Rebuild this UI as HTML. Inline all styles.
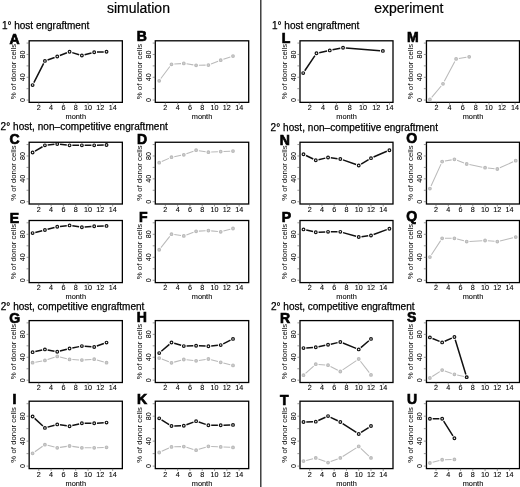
<!DOCTYPE html><html><head><meta charset="utf-8"><style>html,body{margin:0;padding:0;background:#fff;overflow:hidden}svg{display:block;will-change:transform}text{font-family:"Liberation Sans", sans-serif;fill:#000}.t{font-size:7.2px;stroke:#000;stroke-width:0.08px}.yl{font-size:7.4px;stroke:#000;stroke-width:0.08px}.yl2{font-size:7.8px}.lt{font-size:14px;font-weight:bold;stroke:#000;stroke-width:0.7px}.h{font-size:10px;stroke:#000;stroke-width:0.25px}.ti{font-size:14px;stroke:#000;stroke-width:0.2px}</style></head><body>
<svg width="520" height="487" viewBox="0 0 520 487">
<rect width="520" height="487" fill="#fff"/>
<rect x="260" y="0" width="1" height="487" fill="#444"/><rect x="261" y="0" width="1" height="487" fill="#9a9a9a"/>
<text x="106.9" y="13.2" class="ti">simulation</text>
<text x="374.2" y="13.2" class="ti">experiment</text>
<text x="1.9" y="28.8" class="h">1° host engraftment</text>
<text x="272" y="29.3" class="h">1° host engraftment</text>
<text x="0.6" y="129.5" class="h" textLength="167.2">2° host, non–competitive engraftment</text>
<text x="270.6" y="130.5" class="h" textLength="167.4">2° host, non–competitive engraftment</text>
<text x="0.8" y="309.7" class="h">2° host, competitive engraftment</text>
<text x="271" y="309.8" class="h">2° host, competitive engraftment</text>
<rect x="29.15" y="40.8" width="93.2" height="61.55" fill="none" stroke="#000" stroke-width="1.3"/>
<path d="M26.55 100.07H29.15M26.55 88.67H29.15M26.55 77.27H29.15M26.55 65.88H29.15M26.55 54.48H29.15M26.55 43.08H29.15M38.76 102.35V104.75M51.08 102.35V104.75M63.4 102.35V104.75M75.72 102.35V104.75M88.04 102.35V104.75M100.36 102.35V104.75M112.68 102.35V104.75" stroke="#555" stroke-width="0.6" fill="none"/>
<text transform="translate(24.85,100.07) rotate(-90)" text-anchor="middle" class="t">0</text>
<text transform="translate(24.85,77.27) rotate(-90)" text-anchor="middle" class="t">40</text>
<text transform="translate(24.85,54.48) rotate(-90)" text-anchor="middle" class="t">80</text>
<text transform="translate(15.95,71.57) rotate(-90)" text-anchor="middle" class="yl2">% of donor cells</text>
<text x="38.76" y="109.9" text-anchor="middle" class="t">2</text>
<text x="51.08" y="109.9" text-anchor="middle" class="t">4</text>
<text x="63.4" y="109.9" text-anchor="middle" class="t">6</text>
<text x="75.72" y="109.9" text-anchor="middle" class="t">8</text>
<text x="88.04" y="109.9" text-anchor="middle" class="t">10</text>
<text x="100.36" y="109.9" text-anchor="middle" class="t">12</text>
<text x="112.68" y="109.9" text-anchor="middle" class="t">14</text>
<text x="75.75" y="118.8" text-anchor="middle" class="yl">month</text>
<text x="9.5" y="43.7" class="lt">A</text>
<path d="M33.87 82.62L43.65 63.37M47.56 59.94L54.6 57.44M59.86 55.5L66.94 52.79M72.24 52.6L79.2 54.69M84.58 54.77L91.5 52.91M97 52.09L103.72 51.88" stroke="#111" stroke-width="1.5" fill="none"/>
<circle cx="32.6" cy="85.11" r="1.35" fill="none" stroke="#111" stroke-width="1.2"/>
<circle cx="44.92" cy="60.88" r="1.35" fill="none" stroke="#111" stroke-width="1.2"/>
<circle cx="57.24" cy="56.5" r="1.35" fill="none" stroke="#111" stroke-width="1.2"/>
<circle cx="69.56" cy="51.79" r="1.35" fill="none" stroke="#111" stroke-width="1.2"/>
<circle cx="81.88" cy="55.49" r="1.35" fill="none" stroke="#111" stroke-width="1.2"/>
<circle cx="94.2" cy="52.18" r="1.35" fill="none" stroke="#111" stroke-width="1.2"/>
<circle cx="106.52" cy="51.79" r="1.35" fill="none" stroke="#111" stroke-width="1.2"/>
<rect x="155.3" y="40.8" width="93.4" height="61.55" fill="none" stroke="#000" stroke-width="1.3"/>
<path d="M152.7 100.07H155.3M152.7 88.67H155.3M152.7 77.27H155.3M152.7 65.88H155.3M152.7 54.48H155.3M152.7 43.08H155.3M165.35 102.35V104.75M177.65 102.35V104.75M189.95 102.35V104.75M202.25 102.35V104.75M214.55 102.35V104.75M226.85 102.35V104.75M239.15 102.35V104.75" stroke="#555" stroke-width="0.6" fill="none"/>
<text transform="translate(151,100.07) rotate(-90)" text-anchor="middle" class="t">0</text>
<text transform="translate(151,77.27) rotate(-90)" text-anchor="middle" class="t">40</text>
<text transform="translate(151,54.48) rotate(-90)" text-anchor="middle" class="t">80</text>
<text transform="translate(142.1,71.57) rotate(-90)" text-anchor="middle" class="yl2">% of donor cells</text>
<text x="165.35" y="109.9" text-anchor="middle" class="t">2</text>
<text x="177.65" y="109.9" text-anchor="middle" class="t">4</text>
<text x="189.95" y="109.9" text-anchor="middle" class="t">6</text>
<text x="202.25" y="109.9" text-anchor="middle" class="t">8</text>
<text x="214.55" y="109.9" text-anchor="middle" class="t">10</text>
<text x="226.85" y="109.9" text-anchor="middle" class="t">12</text>
<text x="239.15" y="109.9" text-anchor="middle" class="t">14</text>
<text x="202" y="118.8" text-anchor="middle" class="yl">month</text>
<text x="136.7" y="40.7" class="lt">B</text>
<path d="M160.87 78.55L169.83 66.55M174.29 64.1L181.01 63.61M186.57 63.83L193.33 64.88M198.9 65.26L205.6 65.14M211 64.05L218.1 61.24M223.36 59.32L230.34 56.99" stroke="#bababa" stroke-width="1.05" fill="none"/>
<circle cx="159.2" cy="80.79" r="1.35" fill="#cfcfcf" stroke="#bababa" stroke-width="1.1"/>
<circle cx="171.5" cy="64.3" r="1.35" fill="#cfcfcf" stroke="#bababa" stroke-width="1.1"/>
<circle cx="183.8" cy="63.4" r="1.35" fill="#cfcfcf" stroke="#bababa" stroke-width="1.1"/>
<circle cx="196.1" cy="65.31" r="1.35" fill="#cfcfcf" stroke="#bababa" stroke-width="1.1"/>
<circle cx="208.4" cy="65.09" r="1.35" fill="#cfcfcf" stroke="#bababa" stroke-width="1.1"/>
<circle cx="220.7" cy="60.21" r="1.35" fill="#cfcfcf" stroke="#bababa" stroke-width="1.1"/>
<circle cx="233" cy="56.11" r="1.35" fill="#cfcfcf" stroke="#bababa" stroke-width="1.1"/>
<rect x="300" y="40.8" width="93" height="61.55" fill="none" stroke="#000" stroke-width="1.3"/>
<path d="M297.4 100.07H300M297.4 88.67H300M297.4 77.27H300M297.4 65.88H300M297.4 54.48H300M297.4 43.08H300M309.84 102.35V104.75M323.12 102.35V104.75M336.4 102.35V104.75M349.68 102.35V104.75M362.96 102.35V104.75M376.24 102.35V104.75M389.52 102.35V104.75" stroke="#555" stroke-width="0.6" fill="none"/>
<text transform="translate(295.7,100.07) rotate(-90)" text-anchor="middle" class="t">0</text>
<text transform="translate(295.7,77.27) rotate(-90)" text-anchor="middle" class="t">40</text>
<text transform="translate(295.7,54.48) rotate(-90)" text-anchor="middle" class="t">80</text>
<text transform="translate(286.8,71.57) rotate(-90)" text-anchor="middle" class="yl2">% of donor cells</text>
<text x="309.84" y="109.9" text-anchor="middle" class="t">2</text>
<text x="323.12" y="109.9" text-anchor="middle" class="t">4</text>
<text x="336.4" y="109.9" text-anchor="middle" class="t">6</text>
<text x="349.68" y="109.9" text-anchor="middle" class="t">8</text>
<text x="362.96" y="109.9" text-anchor="middle" class="t">10</text>
<text x="376.24" y="109.9" text-anchor="middle" class="t">12</text>
<text x="389.52" y="109.9" text-anchor="middle" class="t">14</text>
<text x="346.5" y="118.8" text-anchor="middle" class="yl">month</text>
<text x="281.7" y="42.6" class="lt">L</text>
<path d="M304.76 70.78L314.92 55.63M319.21 52.7L327.03 50.99M332.51 49.85L340.29 48.34M345.83 48.02L380.09 50.68" stroke="#111" stroke-width="1.5" fill="none"/>
<circle cx="303.2" cy="73.11" r="1.35" fill="none" stroke="#111" stroke-width="1.2"/>
<circle cx="316.48" cy="53.31" r="1.35" fill="none" stroke="#111" stroke-width="1.2"/>
<circle cx="329.76" cy="50.39" r="1.35" fill="none" stroke="#111" stroke-width="1.2"/>
<circle cx="343.04" cy="47.81" r="1.35" fill="none" stroke="#111" stroke-width="1.2"/>
<circle cx="382.88" cy="50.89" r="1.35" fill="none" stroke="#111" stroke-width="1.2"/>
<rect x="426.45" y="40.8" width="93.05" height="61.55" fill="none" stroke="#000" stroke-width="1.3"/>
<path d="M423.85 100.07H426.45M423.85 88.67H426.45M423.85 77.27H426.45M423.85 65.88H426.45M423.85 54.48H426.45M423.85 43.08H426.45M436.45 102.35V104.75M449.55 102.35V104.75M462.65 102.35V104.75M475.75 102.35V104.75M488.85 102.35V104.75M501.95 102.35V104.75M515.05 102.35V104.75" stroke="#555" stroke-width="0.6" fill="none"/>
<text transform="translate(422.15,100.07) rotate(-90)" text-anchor="middle" class="t">0</text>
<text transform="translate(422.15,77.27) rotate(-90)" text-anchor="middle" class="t">40</text>
<text transform="translate(422.15,54.48) rotate(-90)" text-anchor="middle" class="t">80</text>
<text transform="translate(413.25,71.57) rotate(-90)" text-anchor="middle" class="yl2">% of donor cells</text>
<text x="436.45" y="109.9" text-anchor="middle" class="t">2</text>
<text x="449.55" y="109.9" text-anchor="middle" class="t">4</text>
<text x="462.65" y="109.9" text-anchor="middle" class="t">6</text>
<text x="475.75" y="109.9" text-anchor="middle" class="t">8</text>
<text x="488.85" y="109.9" text-anchor="middle" class="t">10</text>
<text x="501.95" y="109.9" text-anchor="middle" class="t">12</text>
<text x="515.05" y="109.9" text-anchor="middle" class="t">14</text>
<text x="472.98" y="118.8" text-anchor="middle" class="yl">month</text>
<text x="407" y="41.8" class="lt">M</text>
<path d="M431.7 97.33L441.2 85.97M444.3 81.35L454.8 61.39M458.86 58.47L466.44 57.23" stroke="#bababa" stroke-width="1.05" fill="none"/>
<circle cx="429.9" cy="99.48" r="1.35" fill="#cfcfcf" stroke="#bababa" stroke-width="1.1"/>
<circle cx="443" cy="83.82" r="1.35" fill="#cfcfcf" stroke="#bababa" stroke-width="1.1"/>
<circle cx="456.1" cy="58.92" r="1.35" fill="#cfcfcf" stroke="#bababa" stroke-width="1.1"/>
<circle cx="469.2" cy="56.78" r="1.35" fill="#cfcfcf" stroke="#bababa" stroke-width="1.1"/>
<rect x="29.15" y="142.25" width="93.2" height="61.75" fill="none" stroke="#000" stroke-width="1.3"/>
<path d="M26.55 201.71H29.15M26.55 190.28H29.15M26.55 178.84H29.15M26.55 167.41H29.15M26.55 155.97H29.15M26.55 144.54H29.15M38.76 204V206.4M51.08 204V206.4M63.4 204V206.4M75.72 204V206.4M88.04 204V206.4M100.36 204V206.4M112.68 204V206.4" stroke="#555" stroke-width="0.6" fill="none"/>
<text transform="translate(24.85,201.71) rotate(-90)" text-anchor="middle" class="t">0</text>
<text transform="translate(24.85,178.84) rotate(-90)" text-anchor="middle" class="t">40</text>
<text transform="translate(24.85,155.97) rotate(-90)" text-anchor="middle" class="t">80</text>
<text transform="translate(15.95,173.12) rotate(-90)" text-anchor="middle" class="yl2">% of donor cells</text>
<text x="38.76" y="212.1" text-anchor="middle" class="t">2</text>
<text x="51.08" y="212.1" text-anchor="middle" class="t">4</text>
<text x="63.4" y="212.1" text-anchor="middle" class="t">6</text>
<text x="75.72" y="212.1" text-anchor="middle" class="t">8</text>
<text x="88.04" y="212.1" text-anchor="middle" class="t">10</text>
<text x="100.36" y="212.1" text-anchor="middle" class="t">12</text>
<text x="112.68" y="212.1" text-anchor="middle" class="t">14</text>
<text x="9.5" y="144.1" class="lt">C</text>
<path d="M35.02 151.11L42.5 146.75M47.7 145.04L54.46 144.33M60.02 144.33L66.78 145.04M72.36 145.34L79.08 145.34M84.68 145.34L91.4 145.34M97 145.27L103.72 145.12" stroke="#111" stroke-width="1.5" fill="none"/>
<circle cx="32.6" cy="152.52" r="1.35" fill="none" stroke="#111" stroke-width="1.2"/>
<circle cx="44.92" cy="145.34" r="1.35" fill="none" stroke="#111" stroke-width="1.2"/>
<circle cx="57.24" cy="144.03" r="1.35" fill="none" stroke="#111" stroke-width="1.2"/>
<circle cx="69.56" cy="145.34" r="1.35" fill="none" stroke="#111" stroke-width="1.2"/>
<circle cx="81.88" cy="145.34" r="1.35" fill="none" stroke="#111" stroke-width="1.2"/>
<circle cx="94.2" cy="145.34" r="1.35" fill="none" stroke="#111" stroke-width="1.2"/>
<circle cx="106.52" cy="145.05" r="1.35" fill="none" stroke="#111" stroke-width="1.2"/>
<rect x="155.3" y="142.25" width="93.4" height="61.75" fill="none" stroke="#000" stroke-width="1.3"/>
<path d="M152.7 201.71H155.3M152.7 190.28H155.3M152.7 178.84H155.3M152.7 167.41H155.3M152.7 155.97H155.3M152.7 144.54H155.3M165.35 204V206.4M177.65 204V206.4M189.95 204V206.4M202.25 204V206.4M214.55 204V206.4M226.85 204V206.4M239.15 204V206.4" stroke="#555" stroke-width="0.6" fill="none"/>
<text transform="translate(151,201.71) rotate(-90)" text-anchor="middle" class="t">0</text>
<text transform="translate(151,178.84) rotate(-90)" text-anchor="middle" class="t">40</text>
<text transform="translate(151,155.97) rotate(-90)" text-anchor="middle" class="t">80</text>
<text transform="translate(142.1,173.12) rotate(-90)" text-anchor="middle" class="yl2">% of donor cells</text>
<text x="165.35" y="212.1" text-anchor="middle" class="t">2</text>
<text x="177.65" y="212.1" text-anchor="middle" class="t">4</text>
<text x="189.95" y="212.1" text-anchor="middle" class="t">6</text>
<text x="202.25" y="212.1" text-anchor="middle" class="t">8</text>
<text x="214.55" y="212.1" text-anchor="middle" class="t">10</text>
<text x="226.85" y="212.1" text-anchor="middle" class="t">12</text>
<text x="239.15" y="212.1" text-anchor="middle" class="t">14</text>
<text x="137" y="143.9" class="lt">D</text>
<path d="M161.76 161.57L168.94 158.36M174.25 156.68L181.05 155.33M186.42 153.81L193.48 151.18M198.86 150.65L205.64 151.74M211.2 152.06L217.9 151.75M223.5 151.5L230.2 151.22" stroke="#bababa" stroke-width="1.05" fill="none"/>
<circle cx="159.2" cy="162.71" r="1.35" fill="#cfcfcf" stroke="#bababa" stroke-width="1.1"/>
<circle cx="171.5" cy="157.22" r="1.35" fill="#cfcfcf" stroke="#bababa" stroke-width="1.1"/>
<circle cx="183.8" cy="154.79" r="1.35" fill="#cfcfcf" stroke="#bababa" stroke-width="1.1"/>
<circle cx="196.1" cy="150.2" r="1.35" fill="#cfcfcf" stroke="#bababa" stroke-width="1.1"/>
<circle cx="208.4" cy="152.18" r="1.35" fill="#cfcfcf" stroke="#bababa" stroke-width="1.1"/>
<circle cx="220.7" cy="151.62" r="1.35" fill="#cfcfcf" stroke="#bababa" stroke-width="1.1"/>
<circle cx="233" cy="151.11" r="1.35" fill="#cfcfcf" stroke="#bababa" stroke-width="1.1"/>
<rect x="300" y="142.25" width="93" height="61.75" fill="none" stroke="#000" stroke-width="1.3"/>
<path d="M297.4 201.71H300M297.4 190.28H300M297.4 178.84H300M297.4 167.41H300M297.4 155.97H300M297.4 144.54H300M309.63 204V206.4M321.9 204V206.4M334.18 204V206.4M346.45 204V206.4M358.72 204V206.4M370.99 204V206.4M383.26 204V206.4" stroke="#555" stroke-width="0.6" fill="none"/>
<text transform="translate(295.7,201.71) rotate(-90)" text-anchor="middle" class="t">0</text>
<text transform="translate(295.7,178.84) rotate(-90)" text-anchor="middle" class="t">40</text>
<text transform="translate(295.7,155.97) rotate(-90)" text-anchor="middle" class="t">80</text>
<text transform="translate(286.8,173.12) rotate(-90)" text-anchor="middle" class="yl2">% of donor cells</text>
<text x="309.63" y="212.1" text-anchor="middle" class="t">2</text>
<text x="321.9" y="212.1" text-anchor="middle" class="t">4</text>
<text x="334.18" y="212.1" text-anchor="middle" class="t">6</text>
<text x="346.45" y="212.1" text-anchor="middle" class="t">8</text>
<text x="358.72" y="212.1" text-anchor="middle" class="t">10</text>
<text x="370.99" y="212.1" text-anchor="middle" class="t">12</text>
<text x="383.26" y="212.1" text-anchor="middle" class="t">14</text>
<text x="279.8" y="145.3" class="lt">N</text>
<path d="M306.01 155.46L313.26 159.04M318.5 159.66L325.31 158.12M330.82 157.84L337.53 158.64M342.95 159.91L356.08 164.55M361.12 164.05L368.59 159.57M373.56 157.02L386.83 151.31" stroke="#111" stroke-width="1.5" fill="none"/>
<circle cx="303.5" cy="154.22" r="1.35" fill="none" stroke="#111" stroke-width="1.2"/>
<circle cx="315.77" cy="160.28" r="1.35" fill="none" stroke="#111" stroke-width="1.2"/>
<circle cx="328.04" cy="157.5" r="1.35" fill="none" stroke="#111" stroke-width="1.2"/>
<circle cx="340.31" cy="158.98" r="1.35" fill="none" stroke="#111" stroke-width="1.2"/>
<circle cx="358.72" cy="165.49" r="1.35" fill="none" stroke="#111" stroke-width="1.2"/>
<circle cx="370.99" cy="158.13" r="1.35" fill="none" stroke="#111" stroke-width="1.2"/>
<circle cx="389.4" cy="150.2" r="1.35" fill="none" stroke="#111" stroke-width="1.2"/>
<rect x="426.45" y="142.25" width="93.05" height="61.75" fill="none" stroke="#000" stroke-width="1.3"/>
<path d="M423.85 201.71H426.45M423.85 190.28H426.45M423.85 178.84H426.45M423.85 167.41H426.45M423.85 155.97H426.45M423.85 144.54H426.45M436.03 204V206.4M448.29 204V206.4M460.55 204V206.4M472.81 204V206.4M485.07 204V206.4M497.33 204V206.4M509.59 204V206.4" stroke="#555" stroke-width="0.6" fill="none"/>
<text transform="translate(422.15,201.71) rotate(-90)" text-anchor="middle" class="t">0</text>
<text transform="translate(422.15,178.84) rotate(-90)" text-anchor="middle" class="t">40</text>
<text transform="translate(422.15,155.97) rotate(-90)" text-anchor="middle" class="t">80</text>
<text transform="translate(413.25,173.12) rotate(-90)" text-anchor="middle" class="yl2">% of donor cells</text>
<text x="436.03" y="212.1" text-anchor="middle" class="t">2</text>
<text x="448.29" y="212.1" text-anchor="middle" class="t">4</text>
<text x="460.55" y="212.1" text-anchor="middle" class="t">6</text>
<text x="472.81" y="212.1" text-anchor="middle" class="t">8</text>
<text x="485.07" y="212.1" text-anchor="middle" class="t">10</text>
<text x="497.33" y="212.1" text-anchor="middle" class="t">12</text>
<text x="509.59" y="212.1" text-anchor="middle" class="t">14</text>
<text x="406.2" y="142.9" class="lt">O</text>
<path d="M431.06 186.03L441 164.13M444.92 161.08L451.66 159.87M457.04 160.36L464.06 163.02M469.43 164.56L482.32 167.14M487.85 167.99L494.55 168.7M499.88 167.84L513.17 161.83" stroke="#bababa" stroke-width="1.05" fill="none"/>
<circle cx="429.9" cy="188.58" r="1.35" fill="#cfcfcf" stroke="#bababa" stroke-width="1.1"/>
<circle cx="442.16" cy="161.58" r="1.35" fill="#cfcfcf" stroke="#bababa" stroke-width="1.1"/>
<circle cx="454.42" cy="159.37" r="1.35" fill="#cfcfcf" stroke="#bababa" stroke-width="1.1"/>
<circle cx="466.68" cy="164.01" r="1.35" fill="#cfcfcf" stroke="#bababa" stroke-width="1.1"/>
<circle cx="485.07" cy="167.69" r="1.35" fill="#cfcfcf" stroke="#bababa" stroke-width="1.1"/>
<circle cx="497.33" cy="168.99" r="1.35" fill="#cfcfcf" stroke="#bababa" stroke-width="1.1"/>
<circle cx="515.72" cy="160.67" r="1.35" fill="#cfcfcf" stroke="#bababa" stroke-width="1.1"/>
<rect x="29.15" y="220.5" width="93.2" height="62.1" fill="none" stroke="#000" stroke-width="1.3"/>
<path d="M26.55 280.3H29.15M26.55 268.8H29.15M26.55 257.3H29.15M26.55 245.8H29.15M26.55 234.3H29.15M26.55 222.8H29.15M38.76 282.6V285M51.08 282.6V285M63.4 282.6V285M75.72 282.6V285M88.04 282.6V285M100.36 282.6V285M112.68 282.6V285" stroke="#555" stroke-width="0.6" fill="none"/>
<text transform="translate(24.85,280.3) rotate(-90)" text-anchor="middle" class="t">0</text>
<text transform="translate(24.85,257.3) rotate(-90)" text-anchor="middle" class="t">40</text>
<text transform="translate(24.85,234.3) rotate(-90)" text-anchor="middle" class="t">80</text>
<text transform="translate(15.95,251.55) rotate(-90)" text-anchor="middle" class="yl2">% of donor cells</text>
<text x="38.76" y="290.4" text-anchor="middle" class="t">2</text>
<text x="51.08" y="290.4" text-anchor="middle" class="t">4</text>
<text x="63.4" y="290.4" text-anchor="middle" class="t">6</text>
<text x="75.72" y="290.4" text-anchor="middle" class="t">8</text>
<text x="88.04" y="290.4" text-anchor="middle" class="t">10</text>
<text x="100.36" y="290.4" text-anchor="middle" class="t">12</text>
<text x="112.68" y="290.4" text-anchor="middle" class="t">14</text>
<text x="75.75" y="299.3" text-anchor="middle" class="yl">month</text>
<text x="9.7" y="222.5" class="lt">E</text>
<path d="M35.32 232.44L42.2 230.72M47.62 229.31L54.54 227.43M60.02 226.4L66.78 225.69M72.33 225.8L79.11 226.8M84.67 227L91.41 226.51M97 226.21L103.72 226" stroke="#111" stroke-width="1.5" fill="none"/>
<circle cx="32.6" cy="233.11" r="1.35" fill="none" stroke="#111" stroke-width="1.2"/>
<circle cx="44.92" cy="230.05" r="1.35" fill="none" stroke="#111" stroke-width="1.2"/>
<circle cx="57.24" cy="226.7" r="1.35" fill="none" stroke="#111" stroke-width="1.2"/>
<circle cx="69.56" cy="225.39" r="1.35" fill="none" stroke="#111" stroke-width="1.2"/>
<circle cx="81.88" cy="227.21" r="1.35" fill="none" stroke="#111" stroke-width="1.2"/>
<circle cx="94.2" cy="226.3" r="1.35" fill="none" stroke="#111" stroke-width="1.2"/>
<circle cx="106.52" cy="225.91" r="1.35" fill="none" stroke="#111" stroke-width="1.2"/>
<rect x="155.3" y="220.5" width="93.4" height="62.1" fill="none" stroke="#000" stroke-width="1.3"/>
<path d="M152.7 280.3H155.3M152.7 268.8H155.3M152.7 257.3H155.3M152.7 245.8H155.3M152.7 234.3H155.3M152.7 222.8H155.3M165.35 282.6V285M177.65 282.6V285M189.95 282.6V285M202.25 282.6V285M214.55 282.6V285M226.85 282.6V285M239.15 282.6V285" stroke="#555" stroke-width="0.6" fill="none"/>
<text transform="translate(151,280.3) rotate(-90)" text-anchor="middle" class="t">0</text>
<text transform="translate(151,257.3) rotate(-90)" text-anchor="middle" class="t">40</text>
<text transform="translate(151,234.3) rotate(-90)" text-anchor="middle" class="t">80</text>
<text transform="translate(142.1,251.55) rotate(-90)" text-anchor="middle" class="yl2">% of donor cells</text>
<text x="165.35" y="290.4" text-anchor="middle" class="t">2</text>
<text x="177.65" y="290.4" text-anchor="middle" class="t">4</text>
<text x="189.95" y="290.4" text-anchor="middle" class="t">6</text>
<text x="202.25" y="290.4" text-anchor="middle" class="t">8</text>
<text x="214.55" y="290.4" text-anchor="middle" class="t">10</text>
<text x="226.85" y="290.4" text-anchor="middle" class="t">12</text>
<text x="239.15" y="290.4" text-anchor="middle" class="t">14</text>
<text x="202" y="299.3" text-anchor="middle" class="yl">month</text>
<text x="138.9" y="222.2" class="lt">F</text>
<path d="M160.94 247.55L169.76 236.39M174.27 234.58L181.03 235.51M186.42 234.91L193.48 232.28M198.9 231.14L205.6 230.77M211.19 230.89L217.91 231.54M223.4 231.08L230.3 229.24" stroke="#bababa" stroke-width="1.05" fill="none"/>
<circle cx="159.2" cy="249.74" r="1.35" fill="#cfcfcf" stroke="#bababa" stroke-width="1.1"/>
<circle cx="171.5" cy="234.19" r="1.35" fill="#cfcfcf" stroke="#bababa" stroke-width="1.1"/>
<circle cx="183.8" cy="235.89" r="1.35" fill="#cfcfcf" stroke="#bababa" stroke-width="1.1"/>
<circle cx="196.1" cy="231.3" r="1.35" fill="#cfcfcf" stroke="#bababa" stroke-width="1.1"/>
<circle cx="208.4" cy="230.62" r="1.35" fill="#cfcfcf" stroke="#bababa" stroke-width="1.1"/>
<circle cx="220.7" cy="231.81" r="1.35" fill="#cfcfcf" stroke="#bababa" stroke-width="1.1"/>
<circle cx="233" cy="228.52" r="1.35" fill="#cfcfcf" stroke="#bababa" stroke-width="1.1"/>
<rect x="300" y="220.5" width="93" height="62.1" fill="none" stroke="#000" stroke-width="1.3"/>
<path d="M297.4 280.3H300M297.4 268.8H300M297.4 257.3H300M297.4 245.8H300M297.4 234.3H300M297.4 222.8H300M309.63 282.6V285M321.9 282.6V285M334.18 282.6V285M346.45 282.6V285M358.72 282.6V285M370.99 282.6V285M383.26 282.6V285" stroke="#555" stroke-width="0.6" fill="none"/>
<text transform="translate(295.7,280.3) rotate(-90)" text-anchor="middle" class="t">0</text>
<text transform="translate(295.7,257.3) rotate(-90)" text-anchor="middle" class="t">40</text>
<text transform="translate(295.7,234.3) rotate(-90)" text-anchor="middle" class="t">80</text>
<text transform="translate(286.8,251.55) rotate(-90)" text-anchor="middle" class="yl2">% of donor cells</text>
<text x="309.63" y="290.4" text-anchor="middle" class="t">2</text>
<text x="321.9" y="290.4" text-anchor="middle" class="t">4</text>
<text x="334.18" y="290.4" text-anchor="middle" class="t">6</text>
<text x="346.45" y="290.4" text-anchor="middle" class="t">8</text>
<text x="358.72" y="290.4" text-anchor="middle" class="t">10</text>
<text x="370.99" y="290.4" text-anchor="middle" class="t">12</text>
<text x="383.26" y="290.4" text-anchor="middle" class="t">14</text>
<text x="346.5" y="299.3" text-anchor="middle" class="yl">month</text>
<text x="281.8" y="222" class="lt">P</text>
<path d="M306.23 230.04L313.04 231.59M318.57 232.13L325.24 231.94M330.84 231.86L337.51 231.86M343.01 232.62L356.02 236.27M361.5 236.68L368.21 235.84M373.62 234.53L386.77 229.66" stroke="#111" stroke-width="1.5" fill="none"/>
<circle cx="303.5" cy="229.42" r="1.35" fill="none" stroke="#111" stroke-width="1.2"/>
<circle cx="315.77" cy="232.21" r="1.35" fill="none" stroke="#111" stroke-width="1.2"/>
<circle cx="328.04" cy="231.86" r="1.35" fill="none" stroke="#111" stroke-width="1.2"/>
<circle cx="340.31" cy="231.86" r="1.35" fill="none" stroke="#111" stroke-width="1.2"/>
<circle cx="358.72" cy="237.03" r="1.35" fill="none" stroke="#111" stroke-width="1.2"/>
<circle cx="370.99" cy="235.5" r="1.35" fill="none" stroke="#111" stroke-width="1.2"/>
<circle cx="389.4" cy="228.69" r="1.35" fill="none" stroke="#111" stroke-width="1.2"/>
<rect x="426.45" y="220.5" width="93.05" height="62.1" fill="none" stroke="#000" stroke-width="1.3"/>
<path d="M423.85 280.3H426.45M423.85 268.8H426.45M423.85 257.3H426.45M423.85 245.8H426.45M423.85 234.3H426.45M423.85 222.8H426.45M436.03 282.6V285M448.29 282.6V285M460.55 282.6V285M472.81 282.6V285M485.07 282.6V285M497.33 282.6V285M509.59 282.6V285" stroke="#555" stroke-width="0.6" fill="none"/>
<text transform="translate(422.15,280.3) rotate(-90)" text-anchor="middle" class="t">0</text>
<text transform="translate(422.15,257.3) rotate(-90)" text-anchor="middle" class="t">40</text>
<text transform="translate(422.15,234.3) rotate(-90)" text-anchor="middle" class="t">80</text>
<text transform="translate(413.25,251.55) rotate(-90)" text-anchor="middle" class="yl2">% of donor cells</text>
<text x="436.03" y="290.4" text-anchor="middle" class="t">2</text>
<text x="448.29" y="290.4" text-anchor="middle" class="t">4</text>
<text x="460.55" y="290.4" text-anchor="middle" class="t">6</text>
<text x="472.81" y="290.4" text-anchor="middle" class="t">8</text>
<text x="485.07" y="290.4" text-anchor="middle" class="t">10</text>
<text x="497.33" y="290.4" text-anchor="middle" class="t">12</text>
<text x="509.59" y="290.4" text-anchor="middle" class="t">14</text>
<text x="472.98" y="299.3" text-anchor="middle" class="yl">month</text>
<text x="406.3" y="221.3" class="lt">Q</text>
<path d="M431.43 254.78L440.63 240.63M444.96 238.28L451.62 238.28M457.12 239L463.98 240.84M469.48 241.41L482.27 240.66M487.86 240.74L494.54 241.33M500.05 240.9L513 237.7" stroke="#bababa" stroke-width="1.05" fill="none"/>
<circle cx="429.9" cy="257.12" r="1.35" fill="#cfcfcf" stroke="#bababa" stroke-width="1.1"/>
<circle cx="442.16" cy="238.28" r="1.35" fill="#cfcfcf" stroke="#bababa" stroke-width="1.1"/>
<circle cx="454.42" cy="238.28" r="1.35" fill="#cfcfcf" stroke="#bababa" stroke-width="1.1"/>
<circle cx="466.68" cy="241.57" r="1.35" fill="#cfcfcf" stroke="#bababa" stroke-width="1.1"/>
<circle cx="485.07" cy="240.49" r="1.35" fill="#cfcfcf" stroke="#bababa" stroke-width="1.1"/>
<circle cx="497.33" cy="241.57" r="1.35" fill="#cfcfcf" stroke="#bababa" stroke-width="1.1"/>
<circle cx="515.72" cy="237.03" r="1.35" fill="#cfcfcf" stroke="#bababa" stroke-width="1.1"/>
<rect x="29.15" y="320.6" width="93.2" height="61.9" fill="none" stroke="#000" stroke-width="1.3"/>
<path d="M26.55 380.21H29.15M26.55 368.74H29.15M26.55 357.28H29.15M26.55 345.82H29.15M26.55 334.36H29.15M26.55 322.89H29.15M38.76 382.5V384.9M51.08 382.5V384.9M63.4 382.5V384.9M75.72 382.5V384.9M88.04 382.5V384.9M100.36 382.5V384.9M112.68 382.5V384.9" stroke="#555" stroke-width="0.6" fill="none"/>
<text transform="translate(24.85,380.21) rotate(-90)" text-anchor="middle" class="t">0</text>
<text transform="translate(24.85,357.28) rotate(-90)" text-anchor="middle" class="t">40</text>
<text transform="translate(24.85,334.36) rotate(-90)" text-anchor="middle" class="t">80</text>
<text transform="translate(15.95,351.55) rotate(-90)" text-anchor="middle" class="yl2">% of donor cells</text>
<text x="38.76" y="390.35" text-anchor="middle" class="t">2</text>
<text x="51.08" y="390.35" text-anchor="middle" class="t">4</text>
<text x="63.4" y="390.35" text-anchor="middle" class="t">6</text>
<text x="75.72" y="390.35" text-anchor="middle" class="t">8</text>
<text x="88.04" y="390.35" text-anchor="middle" class="t">10</text>
<text x="100.36" y="390.35" text-anchor="middle" class="t">12</text>
<text x="112.68" y="390.35" text-anchor="middle" class="t">14</text>
<text x="9.2" y="322.8" class="lt">G</text>
<path d="M35.36 362.19L42.16 360.97M47.58 359.59L54.58 357.26M59.96 357.04L66.84 358.73M72.36 359.55L79.08 359.92M84.67 359.88L91.41 359.41M96.9 359.98L103.82 361.93" stroke="#bababa" stroke-width="1.05" fill="none"/>
<circle cx="32.6" cy="362.69" r="1.35" fill="#cfcfcf" stroke="#bababa" stroke-width="1.1"/>
<circle cx="44.92" cy="360.47" r="1.35" fill="#cfcfcf" stroke="#bababa" stroke-width="1.1"/>
<circle cx="57.24" cy="356.38" r="1.35" fill="#cfcfcf" stroke="#bababa" stroke-width="1.1"/>
<circle cx="69.56" cy="359.39" r="1.35" fill="#cfcfcf" stroke="#bababa" stroke-width="1.1"/>
<circle cx="81.88" cy="360.07" r="1.35" fill="#cfcfcf" stroke="#bababa" stroke-width="1.1"/>
<circle cx="94.2" cy="359.22" r="1.35" fill="#cfcfcf" stroke="#bababa" stroke-width="1.1"/>
<circle cx="106.52" cy="362.69" r="1.35" fill="#cfcfcf" stroke="#bababa" stroke-width="1.1"/>
<path d="M35.33 351.55L42.19 350M47.67 349.92L54.49 351.24M59.94 351.05L66.86 349.2M72.31 347.94L79.13 346.62M84.67 346.29L91.41 346.79M96.84 346.06L103.88 343.56" stroke="#111" stroke-width="1.5" fill="none"/>
<circle cx="32.6" cy="352.17" r="1.35" fill="none" stroke="#111" stroke-width="1.2"/>
<circle cx="44.92" cy="349.39" r="1.35" fill="none" stroke="#111" stroke-width="1.2"/>
<circle cx="57.24" cy="351.77" r="1.35" fill="none" stroke="#111" stroke-width="1.2"/>
<circle cx="69.56" cy="348.48" r="1.35" fill="none" stroke="#111" stroke-width="1.2"/>
<circle cx="81.88" cy="346.09" r="1.35" fill="none" stroke="#111" stroke-width="1.2"/>
<circle cx="94.2" cy="347" r="1.35" fill="none" stroke="#111" stroke-width="1.2"/>
<circle cx="106.52" cy="342.62" r="1.35" fill="none" stroke="#111" stroke-width="1.2"/>
<rect x="155.3" y="320.6" width="93.4" height="61.9" fill="none" stroke="#000" stroke-width="1.3"/>
<path d="M152.7 380.21H155.3M152.7 368.74H155.3M152.7 357.28H155.3M152.7 345.82H155.3M152.7 334.36H155.3M152.7 322.89H155.3M165.35 382.5V384.9M177.65 382.5V384.9M189.95 382.5V384.9M202.25 382.5V384.9M214.55 382.5V384.9M226.85 382.5V384.9M239.15 382.5V384.9" stroke="#555" stroke-width="0.6" fill="none"/>
<text transform="translate(151,380.21) rotate(-90)" text-anchor="middle" class="t">0</text>
<text transform="translate(151,357.28) rotate(-90)" text-anchor="middle" class="t">40</text>
<text transform="translate(151,334.36) rotate(-90)" text-anchor="middle" class="t">80</text>
<text transform="translate(142.1,351.55) rotate(-90)" text-anchor="middle" class="yl2">% of donor cells</text>
<text x="165.35" y="390.35" text-anchor="middle" class="t">2</text>
<text x="177.65" y="390.35" text-anchor="middle" class="t">4</text>
<text x="189.95" y="390.35" text-anchor="middle" class="t">6</text>
<text x="202.25" y="390.35" text-anchor="middle" class="t">8</text>
<text x="214.55" y="390.35" text-anchor="middle" class="t">10</text>
<text x="226.85" y="390.35" text-anchor="middle" class="t">12</text>
<text x="239.15" y="390.35" text-anchor="middle" class="t">14</text>
<text x="136.7" y="322.1" class="lt">H</text>
<path d="M161.81 359.1L168.89 361.85M174.2 362.12L181.1 360.24M186.58 359.8L193.32 360.52M198.87 360.4L205.63 359.4M211.1 359.72L218 361.57M223.41 362.98L230.29 364.73" stroke="#bababa" stroke-width="1.05" fill="none"/>
<circle cx="159.2" cy="358.08" r="1.35" fill="#cfcfcf" stroke="#bababa" stroke-width="1.1"/>
<circle cx="171.5" cy="362.86" r="1.35" fill="#cfcfcf" stroke="#bababa" stroke-width="1.1"/>
<circle cx="183.8" cy="359.5" r="1.35" fill="#cfcfcf" stroke="#bababa" stroke-width="1.1"/>
<circle cx="196.1" cy="360.81" r="1.35" fill="#cfcfcf" stroke="#bababa" stroke-width="1.1"/>
<circle cx="208.4" cy="358.99" r="1.35" fill="#cfcfcf" stroke="#bababa" stroke-width="1.1"/>
<circle cx="220.7" cy="362.29" r="1.35" fill="#cfcfcf" stroke="#bababa" stroke-width="1.1"/>
<circle cx="233" cy="365.42" r="1.35" fill="#cfcfcf" stroke="#bababa" stroke-width="1.1"/>
<path d="M161.33 351.26L169.37 344.38M174.19 343.33L181.11 345.32M186.6 346L193.3 345.78M198.9 345.81L205.6 346.09M211.19 345.96L217.91 345.37M223.2 343.86L230.5 340.18" stroke="#111" stroke-width="1.5" fill="none"/>
<circle cx="159.2" cy="353.08" r="1.35" fill="none" stroke="#111" stroke-width="1.2"/>
<circle cx="171.5" cy="342.56" r="1.35" fill="none" stroke="#111" stroke-width="1.2"/>
<circle cx="183.8" cy="346.09" r="1.35" fill="none" stroke="#111" stroke-width="1.2"/>
<circle cx="196.1" cy="345.69" r="1.35" fill="none" stroke="#111" stroke-width="1.2"/>
<circle cx="208.4" cy="346.2" r="1.35" fill="none" stroke="#111" stroke-width="1.2"/>
<circle cx="220.7" cy="345.12" r="1.35" fill="none" stroke="#111" stroke-width="1.2"/>
<circle cx="233" cy="338.92" r="1.35" fill="none" stroke="#111" stroke-width="1.2"/>
<rect x="300" y="320.6" width="93" height="61.9" fill="none" stroke="#000" stroke-width="1.3"/>
<path d="M297.4 380.21H300M297.4 368.74H300M297.4 357.28H300M297.4 345.82H300M297.4 334.36H300M297.4 322.89H300M309.63 382.5V384.9M321.9 382.5V384.9M334.18 382.5V384.9M346.45 382.5V384.9M358.72 382.5V384.9M370.99 382.5V384.9M383.26 382.5V384.9" stroke="#555" stroke-width="0.6" fill="none"/>
<text transform="translate(295.7,380.21) rotate(-90)" text-anchor="middle" class="t">0</text>
<text transform="translate(295.7,357.28) rotate(-90)" text-anchor="middle" class="t">40</text>
<text transform="translate(295.7,334.36) rotate(-90)" text-anchor="middle" class="t">80</text>
<text transform="translate(286.8,351.55) rotate(-90)" text-anchor="middle" class="yl2">% of donor cells</text>
<text x="309.63" y="390.35" text-anchor="middle" class="t">2</text>
<text x="321.9" y="390.35" text-anchor="middle" class="t">4</text>
<text x="334.18" y="390.35" text-anchor="middle" class="t">6</text>
<text x="346.45" y="390.35" text-anchor="middle" class="t">8</text>
<text x="358.72" y="390.35" text-anchor="middle" class="t">10</text>
<text x="370.99" y="390.35" text-anchor="middle" class="t">12</text>
<text x="383.26" y="390.35" text-anchor="middle" class="t">14</text>
<text x="279.9" y="323.2" class="lt">R</text>
<path d="M305.58 373.33L313.68 366.09M318.56 364.43L325.25 364.93M330.53 366.42L337.83 370.21M342.63 369.93L356.4 360.57M360.43 361.21L369.28 372.69" stroke="#bababa" stroke-width="1.05" fill="none"/>
<circle cx="303.5" cy="375.2" r="1.35" fill="#cfcfcf" stroke="#bababa" stroke-width="1.1"/>
<circle cx="315.77" cy="364.22" r="1.35" fill="#cfcfcf" stroke="#bababa" stroke-width="1.1"/>
<circle cx="328.04" cy="365.13" r="1.35" fill="#cfcfcf" stroke="#bababa" stroke-width="1.1"/>
<circle cx="340.31" cy="371.5" r="1.35" fill="#cfcfcf" stroke="#bababa" stroke-width="1.1"/>
<circle cx="358.72" cy="358.99" r="1.35" fill="#cfcfcf" stroke="#bababa" stroke-width="1.1"/>
<circle cx="370.99" cy="374.91" r="1.35" fill="#cfcfcf" stroke="#bababa" stroke-width="1.1"/>
<path d="M306.29 347.88L312.97 347.42M318.51 346.68L325.29 345.33M330.77 344.16L337.58 342.61M342.91 343.04L356.12 348.34M360.85 347.57L368.86 340.74" stroke="#111" stroke-width="1.5" fill="none"/>
<circle cx="303.5" cy="348.08" r="1.35" fill="none" stroke="#111" stroke-width="1.2"/>
<circle cx="315.77" cy="347.22" r="1.35" fill="none" stroke="#111" stroke-width="1.2"/>
<circle cx="328.04" cy="344.78" r="1.35" fill="none" stroke="#111" stroke-width="1.2"/>
<circle cx="340.31" cy="341.99" r="1.35" fill="none" stroke="#111" stroke-width="1.2"/>
<circle cx="358.72" cy="349.39" r="1.35" fill="none" stroke="#111" stroke-width="1.2"/>
<circle cx="370.99" cy="338.92" r="1.35" fill="none" stroke="#111" stroke-width="1.2"/>
<rect x="426.45" y="320.6" width="93.05" height="61.9" fill="none" stroke="#000" stroke-width="1.3"/>
<path d="M423.85 380.21H426.45M423.85 368.74H426.45M423.85 357.28H426.45M423.85 345.82H426.45M423.85 334.36H426.45M423.85 322.89H426.45M436.03 382.5V384.9M448.29 382.5V384.9M460.55 382.5V384.9M472.81 382.5V384.9M485.07 382.5V384.9M497.33 382.5V384.9M509.59 382.5V384.9" stroke="#555" stroke-width="0.6" fill="none"/>
<text transform="translate(422.15,380.21) rotate(-90)" text-anchor="middle" class="t">0</text>
<text transform="translate(422.15,357.28) rotate(-90)" text-anchor="middle" class="t">40</text>
<text transform="translate(422.15,334.36) rotate(-90)" text-anchor="middle" class="t">80</text>
<text transform="translate(413.25,351.55) rotate(-90)" text-anchor="middle" class="yl2">% of donor cells</text>
<text x="436.03" y="390.35" text-anchor="middle" class="t">2</text>
<text x="448.29" y="390.35" text-anchor="middle" class="t">4</text>
<text x="460.55" y="390.35" text-anchor="middle" class="t">6</text>
<text x="472.81" y="390.35" text-anchor="middle" class="t">8</text>
<text x="485.07" y="390.35" text-anchor="middle" class="t">10</text>
<text x="497.33" y="390.35" text-anchor="middle" class="t">12</text>
<text x="509.59" y="390.35" text-anchor="middle" class="t">14</text>
<text x="407" y="321.8" class="lt">S</text>
<path d="M432.25 376.46L439.81 371.6M444.81 370.99L451.77 373.38M457.15 374.92L463.95 376.5" stroke="#bababa" stroke-width="1.05" fill="none"/>
<circle cx="429.9" cy="377.98" r="1.35" fill="#cfcfcf" stroke="#bababa" stroke-width="1.1"/>
<circle cx="442.16" cy="370.08" r="1.35" fill="#cfcfcf" stroke="#bababa" stroke-width="1.1"/>
<circle cx="454.42" cy="374.29" r="1.35" fill="#cfcfcf" stroke="#bababa" stroke-width="1.1"/>
<circle cx="466.68" cy="377.13" r="1.35" fill="#cfcfcf" stroke="#bababa" stroke-width="1.1"/>
<path d="M432.49 338.45L439.57 341.33M444.72 341.26L451.86 338.12M455.24 339.67L465.86 374.45" stroke="#111" stroke-width="1.5" fill="none"/>
<circle cx="429.9" cy="337.39" r="1.35" fill="none" stroke="#111" stroke-width="1.2"/>
<circle cx="442.16" cy="342.39" r="1.35" fill="none" stroke="#111" stroke-width="1.2"/>
<circle cx="454.42" cy="336.99" r="1.35" fill="none" stroke="#111" stroke-width="1.2"/>
<circle cx="466.68" cy="377.13" r="1.35" fill="none" stroke="#111" stroke-width="1.2"/>
<rect x="29.15" y="401.2" width="93.2" height="67.4" fill="none" stroke="#000" stroke-width="1.3"/>
<path d="M26.55 466.1H29.15M26.55 453.62H29.15M26.55 441.14H29.15M26.55 428.66H29.15M26.55 416.18H29.15M26.55 403.7H29.15M38.76 468.6V471M51.08 468.6V471M63.4 468.6V471M75.72 468.6V471M88.04 468.6V471M100.36 468.6V471M112.68 468.6V471" stroke="#555" stroke-width="0.6" fill="none"/>
<text transform="translate(24.85,466.1) rotate(-90)" text-anchor="middle" class="t">0</text>
<text transform="translate(24.85,441.14) rotate(-90)" text-anchor="middle" class="t">40</text>
<text transform="translate(24.85,416.18) rotate(-90)" text-anchor="middle" class="t">80</text>
<text transform="translate(15.95,434.9) rotate(-90)" text-anchor="middle" class="yl2">% of donor cells</text>
<text x="38.76" y="476.55" text-anchor="middle" class="t">2</text>
<text x="51.08" y="476.55" text-anchor="middle" class="t">4</text>
<text x="63.4" y="476.55" text-anchor="middle" class="t">6</text>
<text x="75.72" y="476.55" text-anchor="middle" class="t">8</text>
<text x="88.04" y="476.55" text-anchor="middle" class="t">10</text>
<text x="100.36" y="476.55" text-anchor="middle" class="t">12</text>
<text x="112.68" y="476.55" text-anchor="middle" class="t">14</text>
<text x="75.75" y="485.5" text-anchor="middle" class="yl">month</text>
<text x="12.6" y="404.2" class="lt">I</text>
<path d="M34.89 451.76L42.63 446.29M47.64 445.36L54.52 447.1M60.01 447.38L66.79 446.39M72.33 446.39L79.11 447.38M84.68 447.78L91.4 447.78M97 447.67L103.72 447.4" stroke="#bababa" stroke-width="1.05" fill="none"/>
<circle cx="32.6" cy="453.37" r="1.35" fill="#cfcfcf" stroke="#bababa" stroke-width="1.1"/>
<circle cx="44.92" cy="444.68" r="1.35" fill="#cfcfcf" stroke="#bababa" stroke-width="1.1"/>
<circle cx="57.24" cy="447.78" r="1.35" fill="#cfcfcf" stroke="#bababa" stroke-width="1.1"/>
<circle cx="69.56" cy="445.98" r="1.35" fill="#cfcfcf" stroke="#bababa" stroke-width="1.1"/>
<circle cx="81.88" cy="447.78" r="1.35" fill="#cfcfcf" stroke="#bababa" stroke-width="1.1"/>
<circle cx="94.2" cy="447.78" r="1.35" fill="#cfcfcf" stroke="#bababa" stroke-width="1.1"/>
<circle cx="106.52" cy="447.29" r="1.35" fill="#cfcfcf" stroke="#bababa" stroke-width="1.1"/>
<path d="M34.65 418.37L42.87 426M47.61 427.14L54.55 425.18M60.01 424.83L66.79 425.82M72.28 425.58L79.16 423.95M84.68 423.3L91.4 423.3M97 423.15L103.72 422.77" stroke="#111" stroke-width="1.5" fill="none"/>
<circle cx="32.6" cy="416.47" r="1.35" fill="none" stroke="#111" stroke-width="1.2"/>
<circle cx="44.92" cy="427.9" r="1.35" fill="none" stroke="#111" stroke-width="1.2"/>
<circle cx="57.24" cy="424.42" r="1.35" fill="none" stroke="#111" stroke-width="1.2"/>
<circle cx="69.56" cy="426.22" r="1.35" fill="none" stroke="#111" stroke-width="1.2"/>
<circle cx="81.88" cy="423.3" r="1.35" fill="none" stroke="#111" stroke-width="1.2"/>
<circle cx="94.2" cy="423.3" r="1.35" fill="none" stroke="#111" stroke-width="1.2"/>
<circle cx="106.52" cy="422.62" r="1.35" fill="none" stroke="#111" stroke-width="1.2"/>
<rect x="155.3" y="401.2" width="93.4" height="67.4" fill="none" stroke="#000" stroke-width="1.3"/>
<path d="M152.7 466.1H155.3M152.7 453.62H155.3M152.7 441.14H155.3M152.7 428.66H155.3M152.7 416.18H155.3M152.7 403.7H155.3M165.35 468.6V471M177.65 468.6V471M189.95 468.6V471M202.25 468.6V471M214.55 468.6V471M226.85 468.6V471M239.15 468.6V471" stroke="#555" stroke-width="0.6" fill="none"/>
<text transform="translate(151,466.1) rotate(-90)" text-anchor="middle" class="t">0</text>
<text transform="translate(151,441.14) rotate(-90)" text-anchor="middle" class="t">40</text>
<text transform="translate(151,416.18) rotate(-90)" text-anchor="middle" class="t">80</text>
<text transform="translate(142.1,434.9) rotate(-90)" text-anchor="middle" class="yl2">% of donor cells</text>
<text x="165.35" y="476.55" text-anchor="middle" class="t">2</text>
<text x="177.65" y="476.55" text-anchor="middle" class="t">4</text>
<text x="189.95" y="476.55" text-anchor="middle" class="t">6</text>
<text x="202.25" y="476.55" text-anchor="middle" class="t">8</text>
<text x="214.55" y="476.55" text-anchor="middle" class="t">10</text>
<text x="226.85" y="476.55" text-anchor="middle" class="t">12</text>
<text x="239.15" y="476.55" text-anchor="middle" class="t">14</text>
<text x="202" y="485.5" text-anchor="middle" class="yl">month</text>
<text x="137" y="404.3" class="lt">K</text>
<path d="M161.75 451.35L168.95 448.07M174.3 446.83L181 446.62M186.48 447.34L193.42 449.41M198.77 449.37L205.73 447.19M211.2 446.48L217.9 446.79M223.5 447.04L230.2 447.34" stroke="#bababa" stroke-width="1.05" fill="none"/>
<circle cx="159.2" cy="452.5" r="1.35" fill="#cfcfcf" stroke="#bababa" stroke-width="1.1"/>
<circle cx="171.5" cy="446.91" r="1.35" fill="#cfcfcf" stroke="#bababa" stroke-width="1.1"/>
<circle cx="183.8" cy="446.54" r="1.35" fill="#cfcfcf" stroke="#bababa" stroke-width="1.1"/>
<circle cx="196.1" cy="450.21" r="1.35" fill="#cfcfcf" stroke="#bababa" stroke-width="1.1"/>
<circle cx="208.4" cy="446.35" r="1.35" fill="#cfcfcf" stroke="#bababa" stroke-width="1.1"/>
<circle cx="220.7" cy="446.91" r="1.35" fill="#cfcfcf" stroke="#bababa" stroke-width="1.1"/>
<circle cx="233" cy="447.47" r="1.35" fill="#cfcfcf" stroke="#bababa" stroke-width="1.1"/>
<path d="M161.57 419.82L169.13 424.55M174.3 425.97L181 425.8M186.42 424.75L193.48 422.11M198.75 422.03L205.75 424.39M211.2 425.29L217.9 425.29M223.5 425.21L230.2 425" stroke="#111" stroke-width="1.5" fill="none"/>
<circle cx="159.2" cy="418.33" r="1.35" fill="none" stroke="#111" stroke-width="1.2"/>
<circle cx="171.5" cy="426.04" r="1.35" fill="none" stroke="#111" stroke-width="1.2"/>
<circle cx="183.8" cy="425.73" r="1.35" fill="none" stroke="#111" stroke-width="1.2"/>
<circle cx="196.1" cy="421.13" r="1.35" fill="none" stroke="#111" stroke-width="1.2"/>
<circle cx="208.4" cy="425.29" r="1.35" fill="none" stroke="#111" stroke-width="1.2"/>
<circle cx="220.7" cy="425.29" r="1.35" fill="none" stroke="#111" stroke-width="1.2"/>
<circle cx="233" cy="424.92" r="1.35" fill="none" stroke="#111" stroke-width="1.2"/>
<rect x="300" y="401.2" width="93" height="67.4" fill="none" stroke="#000" stroke-width="1.3"/>
<path d="M297.4 466.1H300M297.4 453.62H300M297.4 441.14H300M297.4 428.66H300M297.4 416.18H300M297.4 403.7H300M309.63 468.6V471M321.9 468.6V471M334.18 468.6V471M346.45 468.6V471M358.72 468.6V471M370.99 468.6V471M383.26 468.6V471" stroke="#555" stroke-width="0.6" fill="none"/>
<text transform="translate(295.7,466.1) rotate(-90)" text-anchor="middle" class="t">0</text>
<text transform="translate(295.7,441.14) rotate(-90)" text-anchor="middle" class="t">40</text>
<text transform="translate(295.7,416.18) rotate(-90)" text-anchor="middle" class="t">80</text>
<text transform="translate(286.8,434.9) rotate(-90)" text-anchor="middle" class="yl2">% of donor cells</text>
<text x="309.63" y="476.55" text-anchor="middle" class="t">2</text>
<text x="321.9" y="476.55" text-anchor="middle" class="t">4</text>
<text x="334.18" y="476.55" text-anchor="middle" class="t">6</text>
<text x="346.45" y="476.55" text-anchor="middle" class="t">8</text>
<text x="358.72" y="476.55" text-anchor="middle" class="t">10</text>
<text x="370.99" y="476.55" text-anchor="middle" class="t">12</text>
<text x="383.26" y="476.55" text-anchor="middle" class="t">14</text>
<text x="346.5" y="485.5" text-anchor="middle" class="yl">month</text>
<text x="280.1" y="404.5" class="lt">T</text>
<path d="M306.21 460.39L313.05 458.66M318.39 458.95L325.42 461.59M330.66 461.59L337.69 458.95M342.68 456.48L356.35 447.9M360.76 448.33L368.95 456.05" stroke="#bababa" stroke-width="1.05" fill="none"/>
<circle cx="303.5" cy="461.08" r="1.35" fill="#cfcfcf" stroke="#bababa" stroke-width="1.1"/>
<circle cx="315.77" cy="457.97" r="1.35" fill="#cfcfcf" stroke="#bababa" stroke-width="1.1"/>
<circle cx="328.04" cy="462.57" r="1.35" fill="#cfcfcf" stroke="#bababa" stroke-width="1.1"/>
<circle cx="340.31" cy="457.97" r="1.35" fill="#cfcfcf" stroke="#bababa" stroke-width="1.1"/>
<circle cx="358.72" cy="446.42" r="1.35" fill="#cfcfcf" stroke="#bababa" stroke-width="1.1"/>
<circle cx="370.99" cy="457.97" r="1.35" fill="#cfcfcf" stroke="#bababa" stroke-width="1.1"/>
<path d="M306.29 421.91L312.97 421.71M318.32 420.48L325.49 417.25M330.56 417.31L337.79 420.78M342.66 423.53L356.37 432.46M361.07 432.47L368.64 427.56" stroke="#111" stroke-width="1.5" fill="none"/>
<circle cx="303.5" cy="422" r="1.35" fill="none" stroke="#111" stroke-width="1.2"/>
<circle cx="315.77" cy="421.63" r="1.35" fill="none" stroke="#111" stroke-width="1.2"/>
<circle cx="328.04" cy="416.1" r="1.35" fill="none" stroke="#111" stroke-width="1.2"/>
<circle cx="340.31" cy="422" r="1.35" fill="none" stroke="#111" stroke-width="1.2"/>
<circle cx="358.72" cy="433.99" r="1.35" fill="none" stroke="#111" stroke-width="1.2"/>
<circle cx="370.99" cy="426.04" r="1.35" fill="none" stroke="#111" stroke-width="1.2"/>
<rect x="426.45" y="401.2" width="93.05" height="67.4" fill="none" stroke="#000" stroke-width="1.3"/>
<path d="M423.85 466.1H426.45M423.85 453.62H426.45M423.85 441.14H426.45M423.85 428.66H426.45M423.85 416.18H426.45M423.85 403.7H426.45M436.03 468.6V471M448.29 468.6V471M460.55 468.6V471M472.81 468.6V471M485.07 468.6V471M497.33 468.6V471M509.59 468.6V471" stroke="#555" stroke-width="0.6" fill="none"/>
<text transform="translate(422.15,466.1) rotate(-90)" text-anchor="middle" class="t">0</text>
<text transform="translate(422.15,441.14) rotate(-90)" text-anchor="middle" class="t">40</text>
<text transform="translate(422.15,416.18) rotate(-90)" text-anchor="middle" class="t">80</text>
<text transform="translate(413.25,434.9) rotate(-90)" text-anchor="middle" class="yl2">% of donor cells</text>
<text x="436.03" y="476.55" text-anchor="middle" class="t">2</text>
<text x="448.29" y="476.55" text-anchor="middle" class="t">4</text>
<text x="460.55" y="476.55" text-anchor="middle" class="t">6</text>
<text x="472.81" y="476.55" text-anchor="middle" class="t">8</text>
<text x="485.07" y="476.55" text-anchor="middle" class="t">10</text>
<text x="497.33" y="476.55" text-anchor="middle" class="t">12</text>
<text x="509.59" y="476.55" text-anchor="middle" class="t">14</text>
<text x="472.98" y="485.5" text-anchor="middle" class="yl">month</text>
<text x="407" y="403.5" class="lt">U</text>
<path d="M432.61 462.29L439.45 460.49M444.96 459.7L451.62 459.53" stroke="#bababa" stroke-width="1.05" fill="none"/>
<circle cx="429.9" cy="463" r="1.35" fill="#cfcfcf" stroke="#bababa" stroke-width="1.1"/>
<circle cx="442.16" cy="459.77" r="1.35" fill="#cfcfcf" stroke="#bababa" stroke-width="1.1"/>
<circle cx="454.42" cy="459.46" r="1.35" fill="#cfcfcf" stroke="#bababa" stroke-width="1.1"/>
<path d="M432.7 418.71L439.36 418.71M443.65 421.08L452.93 435.84" stroke="#111" stroke-width="1.5" fill="none"/>
<circle cx="429.9" cy="418.71" r="1.35" fill="none" stroke="#111" stroke-width="1.2"/>
<circle cx="442.16" cy="418.71" r="1.35" fill="none" stroke="#111" stroke-width="1.2"/>
<circle cx="454.42" cy="438.21" r="1.35" fill="none" stroke="#111" stroke-width="1.2"/>
</svg></body></html>
